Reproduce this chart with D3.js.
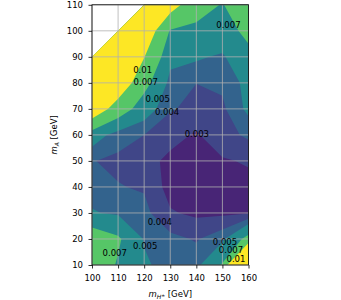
<!DOCTYPE html>
<html>
<head>
<meta charset="utf-8">
<script src="https://cdn.jsdelivr.net/npm/d3@7"></script>
<style>
  body { margin: 0; background: #fff; }
  svg { display: block; font-family: "DejaVu Sans", sans-serif; }
</style>
</head>
<body>
<div id="chart"></div>
<script>
// grid axes
const mH = [100, 110, 120, 130, 140, 150, 160];
const mA = [10, 20, 30, 40, 50, 60, 70, 80, 90, 100, 110];

// grid values, one row per m_A (bottom to top), null = no point
const ratio = [
  [0.0085, 0.0068, 0.0052, 0.0045, 0.0046, 0.0072, 0.022],    // 10
  [0.0085, 0.0073, 0.0049, 0.0043, 0.0039, 0.0047, 0.0078],   // 20
  [0.0051, 0.0048, 0.0043, 0.0031, 0.0028, 0.0028, 0.0029],   // 30
  [0.0045, 0.00405, 0.0039, 0.0026, 0.0022, 0.0024, 0.0027],  // 40
  [0.00404, 0.0038, 0.0033, 0.0028, 0.0024, 0.0029, 0.0031],  // 50
  [0.0058, 0.0044, 0.0040, 0.0033, 0.0029, 0.0036, 0.0042],   // 60
  [0.0125, 0.0084, 0.0058, 0.0041, 0.0037, 0.0038, 0.0053],   // 70
  [0.014, 0.0125, 0.0078, 0.0046, 0.00401, 0.0042, 0.0054],   // 80
  [0.015, 0.014, 0.0101, 0.0054, 0.0052, 0.0048, 0.0065],     // 90
  [null, 0.015, 0.0125, 0.0068, 0.0066, 0.0062, 0.0075],      // 100
  [null, null, 0.014, 0.0115, 0.0078, 0.0069, 0.0085]         // 110
];

// filled levels (lowest band starts at 0)
const levels = [0, 0.003, 0.004, 0.005, 0.007, 0.01];
const bandPos = [0.105, 0.21, 0.316, 0.474, 0.737, 1]; // position in viridis

// contour labels
const labelText = ["0.01", "0.007", "0.005", "0.004", "0.003", "0.007",
                   "0.004", "0.005", "0.007", "0.005", "0.007", "0.01"];
const labelMH = [119.4, 120.6, 125.2, 128.8, 140.2, 152.3, 126, 120.4, 108.7, 151, 153.3, 155.2];
const labelMA = [85, 80.2, 73.8, 68.8, 60.4, 102.3, 26.7, 17.5, 14.8, 18.9, 15.6, 12.3];

const W = 341, H = 300;
const fs = 8.5;

const svg = d3.select("#chart").append("svg")
  .attr("width", W)
  .attr("height", H);

const x = d3.scaleLinear().domain([100, 160]).range([92, 248.5]);
const y = d3.scaleLinear().domain([10, 110]).range([265, 4.8]);

// grid index -> data coords (d3.contours puts sample i at i + 0.5)
const nx = mH.length, ny = mA.length;
const gx = d3.scaleLinear().domain([0.5, nx - 0.5]).range([mH[0], mH[nx - 1]]);
const gy = d3.scaleLinear().domain([0.5, ny - 0.5]).range([mA[0], mA[ny - 1]]);

const proj = d3.geoTransform({
  point: function(px, py) { this.stream.point(x(gx(px)), y(gy(py))); }
});
const path = d3.geoPath(proj);

svg.append("clipPath").attr("id", "clip")
  .append("rect")
  .attr("x", x(100)).attr("y", y(110))
  .attr("width", x(160) - x(100)).attr("height", y(10) - y(110));

const values = ratio.flat();
const bands = d3.contours().size([nx, ny]).thresholds(levels)(values);

svg.append("g")
  .attr("clip-path", "url(#clip)")
  .selectAll("path")
  .data(bands)
  .enter()
  .append("path")
  .attr("d", path)
  .attr("fill", (d, i) => d3.interpolateViridis(bandPos[i]))
  .attr("stroke", "none");

// grid lines
const grid = svg.append("g");
grid.selectAll("line.gx")
  .data(mH)
  .enter()
  .append("line")
  .attr("x1", d => x(d)).attr("x2", d => x(d))
  .attr("y1", y(10)).attr("y2", y(110))
  .attr("stroke", "#b0b0b0").attr("stroke-width", 0.8);
grid.selectAll("line.gy")
  .data(mA)
  .enter()
  .append("line")
  .attr("y1", d => y(d)).attr("y2", d => y(d))
  .attr("x1", x(100)).attr("x2", x(160))
  .attr("stroke", "#b0b0b0").attr("stroke-width", 0.8);

// contour labels
svg.append("g")
  .selectAll("text")
  .data(labelText)
  .enter()
  .append("text")
  .attr("x", (d, i) => x(labelMH[i]))
  .attr("y", (d, i) => y(labelMA[i]))
  .attr("dy", "0.36em")
  .attr("text-anchor", "middle")
  .style("font-size", fs + "px")
  .attr("fill", "#000")
  .text(d => d);

// axes
const xAxis = svg.append("g")
  .attr("transform", `translate(0,${y(10)})`)
  .call(d3.axisBottom(x).tickValues(mH).tickSize(3.5).tickPadding(6));
const yAxis = svg.append("g")
  .attr("transform", `translate(${x(100)},0)`)
  .call(d3.axisLeft(y).tickValues(mA).tickSize(3.5).tickPadding(5.5));

[xAxis, yAxis].forEach(g => {
  g.select(".domain").remove();
  g.attr("font-family", null).attr("font-size", null);
  g.selectAll("text").style("font-size", fs + "px").attr("fill", "#000");
  g.selectAll("line").attr("stroke", "#000").attr("stroke-width", 0.8);
});

// frame
svg.append("rect")
  .attr("x", x(100)).attr("y", y(110))
  .attr("width", x(160) - x(100)).attr("height", y(10) - y(110))
  .attr("fill", "none")
  .attr("stroke", "#000")
  .attr("stroke-width", 0.8);

// axis titles
const xt = svg.append("text")
  .attr("x", (x(100) + x(160)) / 2)
  .attr("y", 297)
  .attr("text-anchor", "middle")
  .style("font-size", fs + "px");
xt.append("tspan").style("font-style", "italic").text("m");
xt.append("tspan").style("font-style", "italic").style("font-size", "6px").attr("dy", 2.2).text("H");
xt.append("tspan").style("font-size", "4.5px").attr("dy", -2.6).text("±");
xt.append("tspan").attr("dy", 0.4).text(" [GeV]");

const yt = svg.append("text")
  .attr("transform", `translate(56.5,${(y(10) + y(110)) / 2}) rotate(-90)`)
  .attr("text-anchor", "middle")
  .style("font-size", fs + "px");
yt.append("tspan").style("font-style", "italic").text("m");
yt.append("tspan").style("font-style", "italic").style("font-size", "6px").attr("dy", 2.2).text("A");
yt.append("tspan").attr("dy", -2.2).text(" [GeV]");
</script>
</body>
</html>
